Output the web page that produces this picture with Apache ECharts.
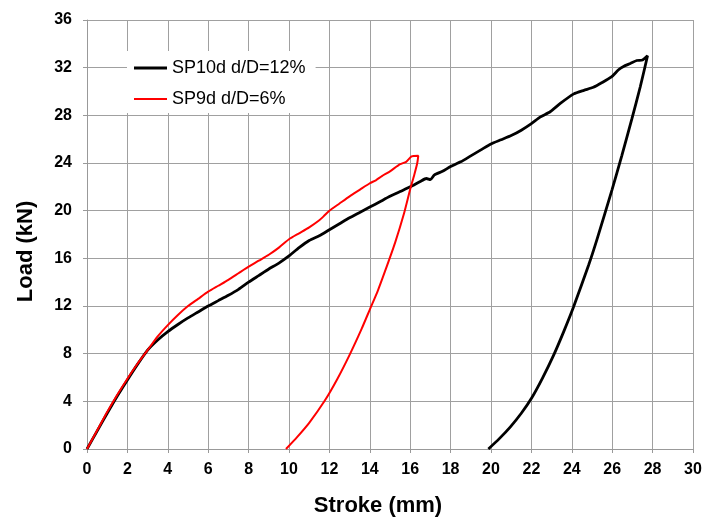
<!DOCTYPE html>
<html><head><meta charset="utf-8">
<script src="https://cdn.jsdelivr.net/npm/echarts@6/dist/echarts.min.js"></script>
<style>html,body{margin:0;padding:0;background:#fff}#c{width:705px;height:523px}</style>
</head><body><div id="c"></div>
<script>
const seriesNames = ['SP10d d/D=12%', 'SP9d d/D=6%'];
const xTicks = [0,2,4,6,8,10,12,14,16,18,20,22,24,26,28,30];
const yTicks = [0,4,8,12,16,20,24,28,32,36];
// SP10d: [stroke mm, load kN]
const sp10d = [[0,0],[0.5,1.5],[1,3.0],[1.5,4.45],[2,5.8],[2.5,7.1],[3,8.3],[3.5,9.15],[4,9.85],[4.5,10.45],[5,11.0],[5.5,11.5],[6,12.0],[6.5,12.45],[7,12.9],[7.5,13.4],[8,14.0],[8.5,14.55],[9,15.1],[9.5,15.6],[10,16.2],[10.5,16.9],[11,17.5],[11.5,17.9],[12,18.4],[12.5,18.9],[13,19.4],[13.5,19.85],[14,20.3],[14.5,20.75],[15,21.2],[15.5,21.6],[16,22.0],[16.5,22.45],[16.8,22.7],[17.0,22.6],[17.2,23.0],[17.6,23.3],[18,23.7],[18.5,24.1],[19,24.6],[19.5,25.1],[20,25.6],[20.5,25.95],[21,26.3],[21.5,26.75],[22,27.3],[22.43,27.85],[22.93,28.3],[23.43,29.0],[24.1,29.8],[24.6,30.1],[25.07,30.35],[25.5,30.75],[25.98,31.25],[26.3,31.8],[26.56,32.1],[26.9,32.35],[27.22,32.6],[27.5,32.65],[27.75,33.0],[27.39,30.4],[26.98,27.74],[26.48,24.64],[25.99,21.75],[25.24,17.55],[24.83,15.42],[24.08,11.89],[23.6,9.85],[23.09,7.83],[22.55,5.95],[22.02,4.3],[21.5,3.0],[20.95,1.84],[20.4,0.85],[19.87,0]];
// SP9d
const sp9d = [[0,0],[0.5,1.55],[1,3.1],[1.5,4.55],[2,5.9],[2.5,7.15],[3,8.3],[3.5,9.45],[4,10.4],[4.5,11.25],[5,12.0],[5.5,12.6],[6,13.2],[6.5,13.7],[7,14.2],[7.5,14.75],[8,15.3],[8.5,15.8],[9,16.3],[9.5,16.9],[10,17.6],[10.5,18.1],[11,18.6],[11.5,19.2],[11.7,19.5],[12,20.0],[12.5,20.6],[13,21.2],[13.5,21.75],[14,22.3],[14.3,22.55],[14.6,22.9],[15,23.3],[15.5,23.9],[15.8,24.1],[16.07,24.55],[16.4,24.6],[16.35,24.0],[16.2,23.0],[16.0,21.8],[15.7,19.8],[15.25,17.3],[14.75,14.9],[14.4,13.3],[14.0,11.7],[13.6,10.1],[13.0,7.9],[12.4,5.9],[11.75,4.0],[11.0,2.2],[10.4,1.0],[9.85,0]];

const chart = echarts.init(document.getElementById('c'));
const font = 'Liberation Sans, Arial, sans-serif';
chart.setOption({
  animation: false,
  backgroundColor: '#fff',
  grid: {left: 87, right: 12, top: 20, bottom: 74},
  legend: {
    orient: 'vertical', left: 127, top: 51,
    itemWidth: 33, itemHeight: 10, itemGap: 13,
    backgroundColor: '#fff', padding: [8, 10, 5, 7],
    data: [
      {name: seriesNames[0], icon: 'path://M0,0 L33,0 L33,3 L0,3 Z', itemStyle: {color: '#000'}},
      {name: seriesNames[1], icon: 'path://M0,0 L33,0 L33,2 L0,2 Z', itemStyle: {color: '#ff0000'}}
    ],
    textStyle: {fontFamily: font, fontSize: 18, lineHeight: 18, color: '#000'}
  },
  xAxis: {
    type: 'value', min: 0, max: 30, interval: 2,
    name: 'Stroke (mm)', nameLocation: 'middle', nameGap: 46,
    nameTextStyle: {fontFamily: font, fontSize: 22, fontWeight: 'bold', color: '#000', padding: [0, 24, 0, 0]},
    axisLine: {lineStyle: {color: '#999', width: 1}},
    axisTick: {show: true, inside: false, length: 4, lineStyle: {color: '#999'}},
    axisLabel: {fontFamily: font, fontSize: 16, fontWeight: 'bold', color: '#000', margin: 13,
      formatter: v => xTicks.includes(v) ? String(v) : ''},
    splitLine: {show: true, lineStyle: {color: '#a0a0a0', width: 1}}
  },
  yAxis: {
    type: 'value', min: 0, max: 36, interval: 4,
    name: 'Load (kN)', nameLocation: 'middle', nameGap: 50,
    nameTextStyle: {fontFamily: font, fontSize: 22, fontWeight: 'bold', color: '#000', padding: [0, 34, 0, 0]},
    axisLine: {show: true, lineStyle: {color: '#999', width: 1}},
    axisTick: {show: true, inside: false, length: 4, lineStyle: {color: '#999'}},
    axisLabel: {fontFamily: font, fontSize: 16, fontWeight: 'bold', color: '#000', margin: 15,
      formatter: v => yTicks.includes(v) ? String(v) : ''},
    splitLine: {show: true, lineStyle: {color: '#a0a0a0', width: 1}}
  },
  series: [
    {name: seriesNames[0], type: 'line', data: sp10d, showSymbol: false, symbol: 'none', smooth: 0.2,
      lineStyle: {color: '#000', width: 2.8}, itemStyle: {color: '#000'}, z: 2},
    {name: seriesNames[1], type: 'line', data: sp9d, showSymbol: false, symbol: 'none', smooth: 0.2,
      lineStyle: {color: '#ff0000', width: 2}, itemStyle: {color: '#ff0000'}, z: 3}
  ]
});
</script></body></html>
